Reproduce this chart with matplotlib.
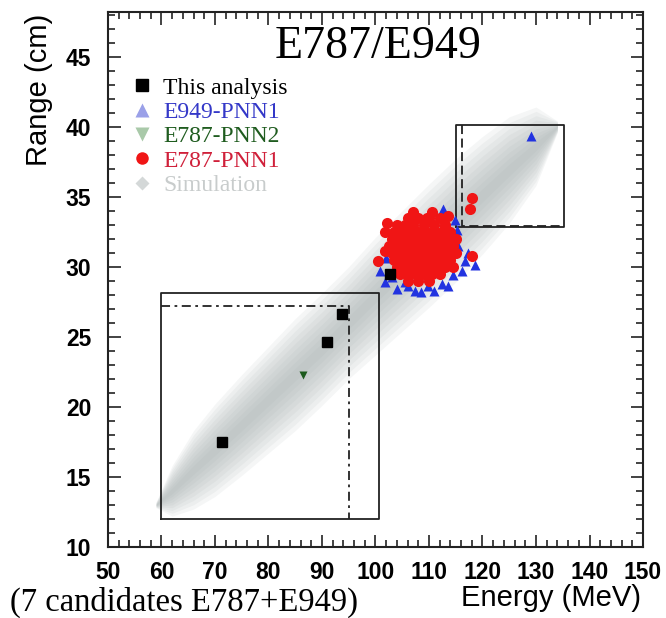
import matplotlib
matplotlib.use("Agg")
import matplotlib.pyplot as plt
from matplotlib.lines import Line2D
from matplotlib.ticker import MultipleLocator

# candidate events (Energy MeV, Range cm)
this_x = [71.4, 91.0, 93.7, 102.7]
this_y = [17.5, 24.6, 26.6, 29.5]
pnn2_x = [86.5]
pnn2_y = [22.3]
e949_x = [112.6, 115.2, 116.7, 118.6, 100.8, 101.8, 104.0, 107.4, 109.8, 112.4,
          105.5, 114.5, 116.1, 115.5, 114.8, 103.0, 106.0, 111.0, 113.5, 102.0,
          129.0, 104.5, 108.6, 117.3]
e949_y = [34.1, 32.6, 30.4, 30.1, 29.7, 28.9, 28.4, 28.3, 28.6, 28.8,
          28.9, 29.4, 29.7, 31.5, 33.3, 29.3, 28.6, 28.3, 28.6, 30.6,
          39.3, 32.3, 28.2, 31.0]
pnn1_x = [106, 108, 110, 112,
          104, 105.5, 107, 109, 111, 113,
          103.5, 105, 106.5, 108, 109.5, 111, 112.5, 114,
          103, 104.5, 106, 107.5, 109, 110.5, 112, 113.5, 115,
          102.5, 104, 105.5, 107, 108.5, 110, 111.5, 113, 114.5,
          103, 104.5, 106, 107.5, 109, 110.5, 112, 113.5, 115,
          103.5, 105, 106.5, 108, 109.5, 111, 112.5, 114,
          104, 105.5, 107, 108.5, 110, 111.5, 113, 114.5,
          104.5, 106, 107.5, 109, 110.5, 112,
          106, 108, 110,
          102.1, 101.8, 107.1, 109.6, 113.0, 103.6, 101.8, 100.5, 118.0,
          118.1, 117.7, 110.6, 113.6]
pnn1_y = [33.5, 33.5, 33.5, 33.5,
          33.0, 33.0, 33.0, 33.0, 33.0, 33.0,
          32.5, 32.5, 32.5, 32.5, 32.5, 32.5, 32.5, 32.5,
          32.0, 32.0, 32.0, 32.0, 32.0, 32.0, 32.0, 32.0, 32.0,
          31.5, 31.5, 31.5, 31.5, 31.5, 31.5, 31.5, 31.5, 31.5,
          31.0, 31.0, 31.0, 31.0, 31.0, 31.0, 31.0, 31.0, 31.0,
          30.5, 30.5, 30.5, 30.5, 30.5, 30.5, 30.5, 30.5,
          30.0, 30.0, 30.0, 30.0, 30.0, 30.0, 30.0, 30.0,
          29.5, 29.5, 29.5, 29.5, 29.5, 29.5,
          29.0, 29.0, 29.0,
          33.1, 32.5, 33.9, 33.5, 32.9, 31.8, 31.1, 30.4, 30.8,
          34.9, 34.1, 33.9, 33.6]

# simulation band: centre line and half widths
sim_x = [59, 62, 66, 70, 75, 80, 85, 90, 95, 100, 105, 110, 115, 120, 125, 130, 134]
sim_y = [13.0, 14.0, 15.5, 16.9, 18.7, 20.5, 22.3, 24.1, 26.0, 27.9, 29.7, 31.5, 33.3, 35.1, 36.9, 38.6, 40.0]
sim_hw = [0.2, 1.8, 2.8, 3.3, 3.6, 3.8, 4.0, 4.0, 4.0, 4.2, 4.3, 4.4, 4.4, 4.2, 3.8, 2.8, 0.4]

fig = plt.figure(figsize=(6.66, 6.18), dpi=100)
ax = fig.add_axes([0.162, 0.115, 0.8035, 0.866])

# simulation cloud as stacked translucent bands, widest first
n = 9
for i in range(n):
    f = 1.0 - i / n
    lo = [c - f * w for c, w in zip(sim_y, sim_hw)]
    hi = [c + f * w for c, w in zip(sim_y, sim_hw)]
    ax.fill_between(sim_x, lo, hi, color='#a0aaaa', alpha=0.1, lw=0, zorder=1)

# signal boxes
ax.plot([60, 100.7, 100.7, 60, 60], [12, 12, 28.1, 28.1, 12], color='#222222', lw=1.3, zorder=2)
ax.plot([60, 95.1, 95.1], [27.2, 27.2, 12], color='#222222', lw=1.3,
        linestyle=(0, (5, 2.5, 1.5, 2.5)), zorder=2)
ax.plot([115, 135.2, 135.2, 115, 115], [32.8, 32.8, 40.1, 40.1, 32.8], color='#222222', lw=1.3, zorder=2)
ax.plot([116.1, 116.1, 135.2], [40.1, 32.9, 32.9], color='#222222', lw=1.3,
        linestyle=(0, (5, 2.5)), zorder=2)

# events
ax.plot(e949_x, e949_y, '^', color='#2233e0', ms=7.5, mec='none', zorder=3)
ax.plot(pnn1_x, pnn1_y, 'o', color='#f01515', ms=8, mec='none', zorder=4)
ax.plot(pnn2_x, pnn2_y, 'v', color='#1d5a1d', ms=6, mec='none', zorder=5)
ax.plot(this_x, this_y, 's', color='black', ms=7, zorder=6)

ax.set_xlim(50, 150)
ax.set_ylim(10, 48.2)
ax.xaxis.set_major_locator(MultipleLocator(10))
ax.xaxis.set_minor_locator(MultipleLocator(2))
ax.yaxis.set_major_locator(MultipleLocator(5))
ax.yaxis.set_minor_locator(MultipleLocator(1))
ax.tick_params(which='both', direction='in', top=True, right=True, width=1.2, colors='#222222')
ax.tick_params(which='major', length=9)
ax.tick_params(which='minor', length=5)
ax.tick_params(axis='both', labelsize=16.5, labelcolor='black')
ax.tick_params(axis='x', pad=10)
ax.tick_params(axis='y', pad=12)
ax.set_yticks([10, 15, 20, 25, 30, 35, 40, 45])
for lab in ax.get_xticklabels() + ax.get_yticklabels():
    lab.set_fontfamily('Liberation Sans')
    lab.set_fontweight('bold')
for s in ax.spines.values():
    s.set_linewidth(1.5)
    s.set_color('#222222')

ax.text(100.5, 45.7, 'E787/E949', fontsize=33, family='Liberation Serif',
        ha='center', va='center')

fig.text(0.058, 0.978, 'Range (cm)', rotation=90, ha='center', va='top',
         fontsize=21, family='Liberation Sans')
fig.text(0.962, 0.033, 'Energy (MeV)', ha='right', va='center',
         fontsize=21, family='Liberation Sans')
fig.text(0.015, 0.025, '(7 candidates E787+E949)', ha='left', va='center',
         fontsize=23.5, family='Liberation Serif')

handles = [
    Line2D([], [], ls='none', marker='s', color='black', ms=9),
    Line2D([], [], ls='none', marker='^', color='#9aa0e8', ms=10, mec='none'),
    Line2D([], [], ls='none', marker='v', color='#a9c9a9', ms=10, mec='none'),
    Line2D([], [], ls='none', marker='o', color='#f01515', ms=9, mec='none'),
    Line2D([], [], ls='none', marker='D', color='#d4d8d8', ms=7, mec='none'),
]
labels = ['This analysis', 'E949-PNN1', 'E787-PNN2', 'E787-PNN1', 'Simulation']
ax.legend(handles, labels, loc='upper left', bbox_to_anchor=(0.019, 0.9),
          frameon=False, prop={'family': 'Liberation Serif', 'size': 17},
          labelcolor=['black', '#3438c8', '#1f5c1f', '#d0203a', '#c8cccc'],
          handlelength=1.0, handletextpad=0.4, labelspacing=0.12, borderpad=0)

plt.savefig('out.png', dpi=100)
plt.close()
